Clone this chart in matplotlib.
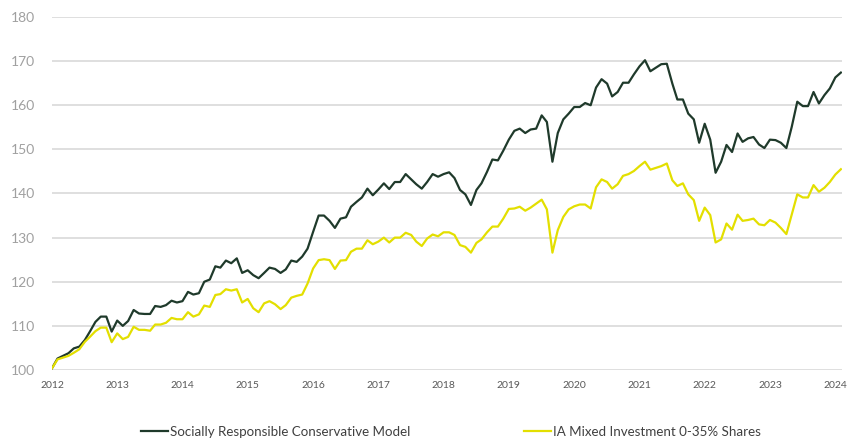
import matplotlib
matplotlib.use("Agg")
import matplotlib.pyplot as plt
import pandas as pd

# monthly index values (start = 100)
srcm = [
    100.4, 102.6, 103.2, 103.8, 104.9, 105.3, 106.8, 108.7, 110.9, 112.1, 112.1, 108.7,
    111.2, 110.0, 111.1, 113.6, 112.8, 112.7, 112.7, 114.5, 114.3, 114.7, 115.7, 115.3,
    115.6, 117.7, 117.1, 117.4, 120.0, 120.5, 123.5, 123.2, 124.8, 124.2, 125.3, 122.0,
    122.6, 121.5, 120.8, 122.0, 123.2, 122.9, 122.0, 122.8, 124.8, 124.5, 125.7, 127.5,
    131.3, 135.0, 135.0, 133.8, 132.2, 134.3, 134.6, 137.0, 138.1, 139.1, 141.1, 139.6,
    140.9, 142.3, 141.0, 142.6, 142.6, 144.4, 143.2, 142.1, 141.1,
    142.6, 144.4, 143.8, 144.4, 144.8, 143.5, 140.8, 139.8, 137.4, 140.8, 142.3, 144.9,
    147.7, 147.5, 149.7, 152.2, 154.2, 154.7, 153.7, 154.5, 154.7, 157.7, 156.2, 147.2,
    153.7, 156.8, 158.1, 159.6, 159.6, 160.5, 160.0, 164.0, 165.9, 164.9, 162.0, 163.0,
    165.1, 165.1, 167.0, 168.8, 170.2, 167.7, 168.5, 169.3, 169.4, 164.9, 161.3, 161.3,
    158.1, 156.8, 151.5, 155.8, 152.2, 144.7, 147.2, 151.0, 149.4, 153.6, 151.7, 152.5,
    152.8, 151.1, 150.3, 152.2, 152.1, 151.5, 150.3, 155.1, 160.8, 159.8, 159.8, 163.0,
    160.4, 162.3, 163.8, 166.3, 167.4,
]

ia_mixed = [
    100.4, 102.4, 102.8, 103.2, 103.9, 104.7, 106.4, 107.5, 108.8, 109.6, 109.6, 106.3,
    108.3, 107.0, 107.5, 109.8, 109.1, 109.1, 108.9, 110.3, 110.3, 110.7, 111.8, 111.5,
    111.5, 113.1, 112.1, 112.6, 114.6, 114.3, 117.0, 117.2, 118.3, 118.0, 118.3, 115.3,
    116.1, 114.0, 113.1, 115.1, 115.6, 114.9, 113.8, 114.7, 116.4, 116.8, 117.1, 119.6,
    123.0, 124.9, 125.1, 124.9, 122.9, 124.8, 124.9, 126.8, 127.5, 127.5, 129.4, 128.5,
    129.1, 130.0, 128.9, 130.0, 130.0, 131.1, 130.6, 129.1, 128.1,
    129.8, 130.7, 130.3, 131.2, 131.2, 130.6, 128.3, 127.9, 126.6, 128.8, 129.6, 131.2,
    132.5, 132.5, 134.3, 136.5, 136.6, 137.0, 136.1, 136.8, 137.7, 138.6, 136.4, 126.6,
    131.7, 134.7, 136.4, 137.1, 137.5, 137.5, 136.6, 141.4, 143.2, 142.6, 141.1, 142.1,
    144.0, 144.4, 145.1, 146.2, 147.2, 145.4, 145.8, 146.2, 146.8, 143.0, 141.7, 142.3,
    139.8, 138.5, 133.8, 136.8, 135.1, 128.9, 129.6, 133.2, 131.8, 135.2, 133.8, 134.0,
    134.3, 133.0, 132.8, 134.0, 133.4, 132.2, 130.8, 135.2, 139.8, 139.1, 139.1, 141.9,
    140.4, 141.3, 142.6, 144.3, 145.5,
]

dates = pd.date_range("2012-07-31", periods=len(srcm), freq="ME")
tick_dates = dates[::12]
tick_labels = [str(d.year) for d in tick_dates]
y_ticks = [100, 110, 120, 130, 140, 150, 160, 170, 180]

plt.rcParams["font.family"] = ["Lato", "DejaVu Sans"]

fig = plt.figure(figsize=(8.48, 4.41), dpi=100)
ax = fig.add_axes([0.0613, 0.161, 0.932, 0.8005])

ax.plot(dates, srcm, color="#1f3a2b", lw=1.6, label="Socially Responsible Conservative Model")
ax.plot(dates, ia_mixed, color="#e3df00", lw=1.6, label="IA Mixed Investment 0-35% Shares")

ax.set_ylim(100, 180)
ax.set_xlim(dates[0], dates[-1] + pd.Timedelta(days=8))
ax.set_yticks(y_ticks)
ax.set_xticks(tick_dates)
ax.set_xticklabels(tick_labels)
ax.grid(axis="y", color="#d9d9d9", lw=1.2)
ax.set_axisbelow(True)
for s in ax.spines.values():
    s.set_visible(False)
ax.tick_params(axis="y", length=0, pad=12, labelsize=10, labelcolor="#a0a0a0")
ax.tick_params(axis="x", length=0, pad=8, labelsize=7.5, labelcolor="#595959")

ax.legend(loc="center", bbox_to_anchor=(0.505, -0.176), ncol=2, frameon=False,
          fontsize=9.6, labelcolor="#404040", handlelength=2.0, handletextpad=0.2,
          columnspacing=8.5)

fig.savefig("out.png", dpi=100)
